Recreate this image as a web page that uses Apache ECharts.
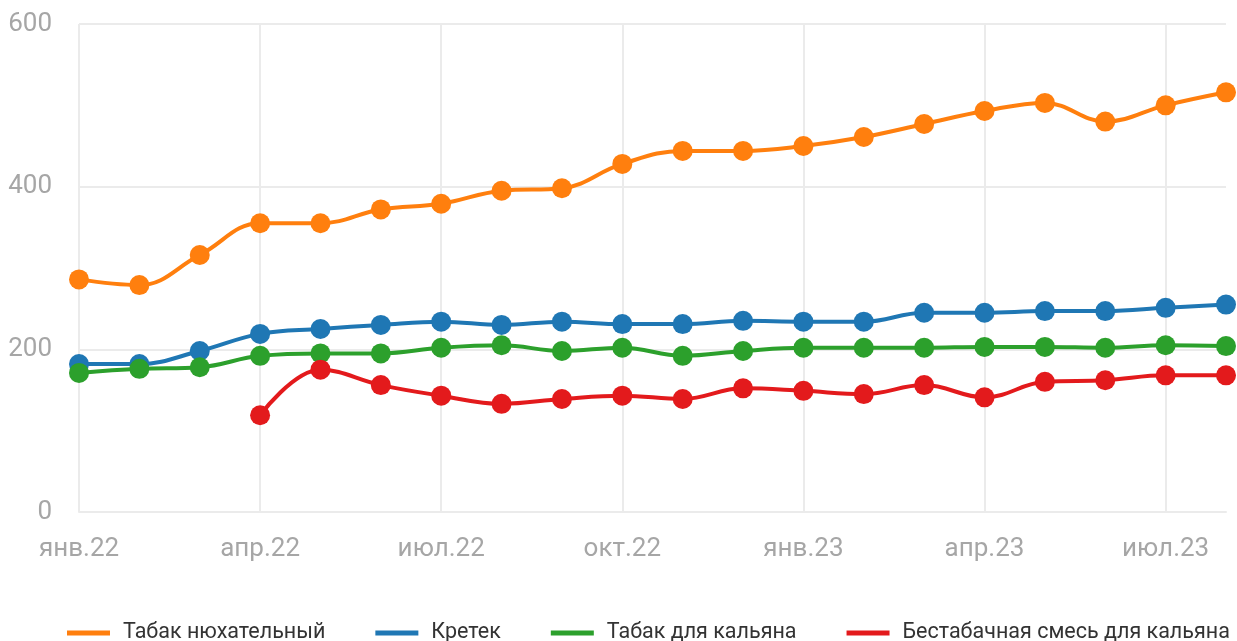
<!DOCTYPE html>
<html>
<head>
<meta charset="utf-8">
<script src="https://cdn.jsdelivr.net/npm/echarts@6/dist/echarts.min.js"></script>
<style>
  html, body { margin: 0; padding: 0; background: #fff; }
  #chart { width: 1237px; height: 641px; }
</style>
</head>
<body>
<div id="chart"></div>
<script>
const months = ['янв.22','фев.22','мар.22','апр.22','май.22','июн.22','июл.22','авг.22','сен.22','окт.22','ноя.22','дек.22',
                'янв.23','фев.23','мар.23','апр.23','май.23','июн.23','июл.23','авг.23'];
const snuff   = [286, 279, 316, 355, 355, 372, 379, 395, 398, 428, 444, 444, 450, 461, 477, 493, 503, 480, 500, 516];
const kretek  = [182, 182, 198, 219, 225, 230, 234, 230, 234, 231, 231, 235, 234, 234, 245, 245, 247, 247, 251, 255];
const hookah  = [171, 176, 178, 192, 195, 195, 202, 205, 198, 202, 192, 198, 202, 202, 202, 203, 203, 202, 205, 204];
const herbal  = [null, null, null, 119, 175, 156, 143, 133, 139, 143, 139, 152, 149, 145, 156, 141, 160, 162, 168, 168];
const yTicks  = { min: 0, max: 600, interval: 200 };

const names  = ['Табак нюхательный', 'Кретек', 'Табак для кальяна', 'Бестабачная смесь для кальяна'];
const colors = ['#ff7f0e', '#1f77b4', '#2ca02c', '#e31a1c'];
const values = [snuff, kretek, hookah, herbal];

const chart = echarts.init(document.getElementById('chart'));

const gridLine = { show: true, lineStyle: { color: '#ebebeb', width: 2 } };

chart.setOption({
  animation: false,
  color: colors,
  textStyle: { fontFamily: 'Roboto' },
  grid: { left: 79, right: 11, top: 24, bottom: 129 },
  legend: {
    top: 617,
    left: 62,
    width: 1175,
    icon: 'rect',
    itemWidth: 43,
    itemHeight: 5,
    itemGap: 50,
    textStyle: { fontSize: 21.5, color: '#333', padding: [0, 0, 0, 8] },
    data: names
  },
  xAxis: {
    type: 'category',
    data: months,
    boundaryGap: false,
    axisLine: { show: true, lineStyle: { color: '#ebebeb', width: 2 } },
    axisTick: { show: false },
    axisLabel: { interval: 2, color: '#a6a6a6', fontSize: 26, margin: 24 },
    splitLine: Object.assign({ interval: 2 }, gridLine)
  },
  yAxis: {
    type: 'value',
    min: yTicks.min,
    max: yTicks.max,
    interval: yTicks.interval,
    axisLine: { show: false },
    axisTick: { show: false },
    axisLabel: { color: '#a6a6a6', fontSize: 26, margin: 27 },
    splitLine: gridLine
  },
  series: names.map((n, i) => ({
    name: n,
    type: 'line',
    data: values[i],
    smooth: 0.4,
    symbol: 'circle',
    symbolSize: 20,
    lineStyle: { width: 4, color: colors[i] },
    itemStyle: { color: colors[i] }
  }))
});
</script>
</body>
</html>
